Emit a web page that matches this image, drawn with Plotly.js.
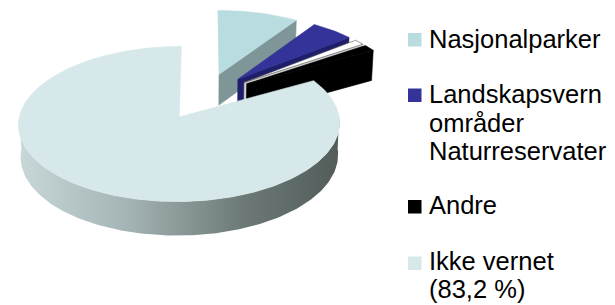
<!DOCTYPE html>
<html>
<head>
<meta charset="utf-8">
<script src="https://cdn.plot.ly/plotly-3.0.1.min.js"></script>
<style>html,body{margin:0;padding:0;background:#fff;}#chart{width:615px;height:305px;}</style>
</head>
<body>
<div id="chart"></div>
<script>
// ---- data ----
const categories = ['Nasjonalparker', 'Landskapsvernområder', 'Naturreservater', 'Andre', 'Ikke vernet'];
const values = [9.3, 4.9, 1.2, 1.4, 83.2];
const topColors = ['#b8dcdf', '#333399', '#ffffff', '#000000', '#d6e8ea'];
const wallColors = ['#7e9698', '#1e1e6a', '#d0d0d0', '#000000', '#6f7d7b'];
const legendLines = [['Nasjonalparker'], ['Landskapsvern', 'områder'], ['Naturreservater'], ['Andre'], ['Ikke vernet', '(83,2 %)']];

// ---- 3D pie projection (pixel space via plotly axes) ----
const W = 615, Hh = 305;
const A = 156, ELEV = 28 * Math.PI / 180, K = 0.1, DEPTH = 0.23, EXPL = 0.32, CX = 205, CY = 96.2;
function proj(u, v, z) {
  const d = 1 + K * (v * Math.cos(ELEV) - z * Math.sin(ELEV));
  return [CX + A * u / d, CY - A * (v * Math.sin(ELEV) + z * Math.cos(ELEV)) / d];
}
const rad = t => t * Math.PI / 180;
const total = values.reduce((a, b) => a + b, 0);
const traces = [];
function poly(pts, fill, line, extra) {
  const t = {
    x: pts.map(p => p[0]), y: pts.map(p => p[1]),
    mode: 'lines', fill: 'toself', fillcolor: fill,
    line: { color: line || fill, width: 0.6 },
    hoverinfo: 'skip', showlegend: false
  };
  return Object.assign(t, extra || {});
}
let cum = 0;
values.forEach((val, i) => {
  const t1 = cum / total * 360;
  cum += val;
  const t2 = cum / total * 360;
  const mid = (t1 + t2) / 2;
  const du = EXPL * Math.sin(rad(mid)), dv = EXPL * Math.cos(rad(mid));
  const rim = (t, z) => proj(du + Math.sin(rad(t)), dv + Math.cos(rad(t)), z);
  const apex = z => proj(du, dv, z);
  const arc = (a, b, z) => {
    const n = Math.max(2, Math.ceil(Math.abs(b - a) / 1));
    const out = [];
    for (let j = 0; j <= n; j++) out.push(rim(a + (b - a) * j / n, z));
    return out;
  };
  // walls
  if (Math.sin(rad(t1)) < -0.01) {
    traces.push(poly([apex(0), rim(t1, 0), rim(t1, -DEPTH), apex(-DEPTH), apex(0)], wallColors[i]));
  }
  if (Math.sin(rad(t2)) > 0.01) {
    traces.push(poly([apex(0), rim(t2, 0), rim(t2, -DEPTH), apex(-DEPTH), apex(0)], wallColors[i]));
  }
  // outer side (front half)
  const a = Math.max(t1, 90), b = Math.min(t2, 270);
  if (b > a) {
    const pts = arc(a, b, 0).concat(arc(b, a, -DEPTH));
    pts.push(pts[0]);
    traces.push(poly(pts, wallColors[i], 'rgba(0,0,0,0)', {
      line: { width: 0 },
      fillgradient: {
        type: 'horizontal',
        colorscale: [[0, '#c8d8d8'], [0.35, '#a3b2b2'], [0.7, '#6c7977'], [1, '#525d5a']]
      }
    }));
  }
  // top face
  const top = [apex(0)].concat(arc(t1, t2, 0));
  top.push(apex(0));
  traces.push(poly(top, topColors[i], i === 2 ? '#555555' : topColors[i]));
});

// ---- legend (text + swatches) ----
const FS = 25.5;
const LX = 428;
const swatchBottom = [46.5, 102, null, 213.5, 270];
const lineBaselines = [[47.7], [103], [131.5, 160], [214.3], [270, 298.3]];
const lineGroups = [[0], [1, 1], [2], [3], [4, 4]];
const annotations = [];
const shapes = [];
legendLines.forEach((lines, i) => {
  lines.forEach((txt, j) => {
    annotations.push({
      x: LX, y: 0, xref: 'x', yref: 'y',
      text: txt, showarrow: false, xanchor: 'left', yanchor: 'middle', borderpad: 0,
      font: { family: 'Liberation Sans, Arial, sans-serif', size: FS, color: '#000' }
    });
  });
  if (swatchBottom[i] !== null) {
    shapes.push({
      type: 'rect', xref: 'x', yref: 'y', x0: 408, x1: 421.5,
      y0: swatchBottom[i] - 13.5, y1: swatchBottom[i],
      fillcolor: topColors[i], line: { width: 0 }
    });
  }
});
// assign text line positions in reading order
const flatBaselines = [47.7, 103, 131.5, 160, 214.3, 270, 298.3];
annotations.forEach((an, idx) => { an.y = flatBaselines[idx] - 0.35 * FS; });

const layout = {
  width: W, height: Hh,
  margin: { l: 0, r: 0, t: 0, b: 0, pad: 0 },
  paper_bgcolor: '#ffffff', plot_bgcolor: '#ffffff',
  xaxis: { range: [0, W], visible: false, fixedrange: true },
  yaxis: { range: [Hh, 0], visible: false, fixedrange: true },
  showlegend: false,
  annotations: annotations,
  shapes: shapes
};
Plotly.newPlot('chart', traces, layout, { displayModeBar: false, staticPlot: true });
</script>
</body>
</html>
